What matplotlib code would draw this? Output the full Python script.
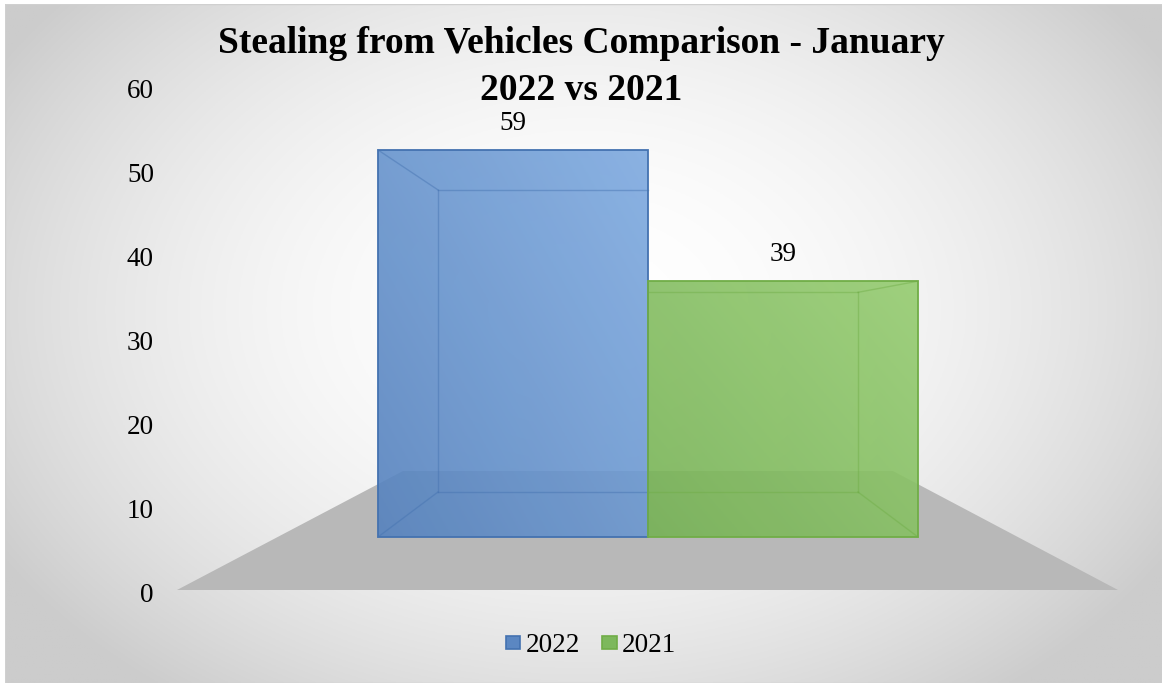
import numpy as np
import matplotlib
matplotlib.use("Agg")
import matplotlib.pyplot as plt
from matplotlib.patches import Polygon, Patch, Rectangle

# ---------------- data ----------------
series_names = ["2022", "2021"]
series_values = [59, 39]
y_ticks = [0, 10, 20, 30, 40, 50, 60]
title_lines = ["Stealing from Vehicles Comparison - January", "2022 vs 2021"]

front_colors = [("#5582be", "#7eaae0"), ("#76b255", "#95cc70")]
edge_colors = ["#4472b0", "#70ad47"]
legend_face = ["#5b87c2", "#7db85c"]

W, H, DPI = 1162, 683, 100
plt.rcParams["font.family"] = ["Liberation Serif", "DejaVu Serif"]

fig = plt.figure(figsize=(W / DPI, H / DPI), dpi=DPI)
fig.patch.set_facecolor("white")

# background (radial gradient) over chart area
bg = fig.add_axes([5 / W, 0, 1 - 5 / W, 1 - 4 / H])
bg.set_axis_off()
yy, xx = np.mgrid[0:1:300j, 0:1:500j]
cx, cy = 0.5, 0.55
r = np.sqrt(((xx - cx) / 0.62) ** 2 + ((yy - cy) / 0.75) ** 2)
g = np.clip(1.0 - 0.22 * r ** 2.0, 0.80, 1.0)
bg.imshow(np.dstack([g, g, g]), extent=[0, 1, 0, 1], aspect="auto", origin="lower")
bg.set_xlim(0, 1); bg.set_ylim(0, 1)
bg.add_patch(Rectangle((0, 0), 1, 1, fill=False, ec="#d0d0d0", lw=1.0,
                       transform=bg.transAxes))

# main axes: x in pixel-like units, y in value units (tick axis)
ax_left, ax_right = 165, 1130
y_bot_px, y_top_px = 593, 88
ax = fig.add_axes([ax_left / W, 1 - y_bot_px / H,
                   (ax_right - ax_left) / W, (y_bot_px - y_top_px) / H])
ax.set_xlim(ax_left, ax_right)
ax.set_ylim(y_ticks[0], y_ticks[-1])
ax.patch.set_alpha(0)
for s in ax.spines.values():
    s.set_visible(False)
ax.set_xticks([])
ax.set_yticks(y_ticks)
ax.tick_params(axis="y", length=0, pad=8, labelsize=19.5)

px_per_unit = (y_bot_px - y_top_px) / (y_ticks[-1] - y_ticks[0])


def px2val(py):
    return (y_bot_px - py) / px_per_unit


# 3D projection: planes (front z=0, back z=1)
planes = {
    0: dict(x0=378, xw=270, base=537, scale=6.56),
    1: dict(x0=438, xw=210, base=492, scale=5.12),
}


def proj(i, v, z):
    p = planes[z]
    return (p["x0"] + i * p["xw"], px2val(p["base"] - p["scale"] * v))


# floor
floor = Polygon([(177, px2val(590)), (1118, px2val(590)),
                 (893, px2val(471)), (403, px2val(471))],
                closed=True, fc="#b8b8b8", ec="none", zorder=1)
ax.add_patch(floor)

n = len(series_values)
for k, v in enumerate(series_values):
    fc0, fc1 = front_colors[k]
    ec = edge_colors[k]
    fbl = proj(k, 0, 0); fbr = proj(k + 1, 0, 0)
    ftl = proj(k, v, 0); ftr = proj(k + 1, v, 0)
    bbl = proj(k, 0, 1); bbr = proj(k + 1, 0, 1)
    btl = proj(k, v, 1); btr = proj(k + 1, v, 1)

    # gradient front face
    c0 = np.array(matplotlib.colors.to_rgb(fc0))
    c1 = np.array(matplotlib.colors.to_rgb(fc1))
    gy, gx = np.mgrid[0:1:100j, 0:1:100j]
    t = np.clip(0.55 * gx + 0.45 * gy, 0, 1)[..., None]
    img = c0 * (1 - t) + c1 * t
    face = Polygon([fbl, fbr, ftr, ftl], closed=True, fc="none", ec="none")
    ax.add_patch(face)
    im = ax.imshow(img, extent=[fbl[0], fbr[0], fbl[1], ftl[1]], origin="lower",
                   aspect="auto", alpha=0.9, zorder=2)
    im.set_clip_path(face)

    if k == 0:
        inner_x = [btl, bbl]
        diag = [(ftl, btl), (fbl, bbl)]
    else:
        inner_x = [btr, bbr]
        diag = [(ftr, btr), (fbr, bbr)]
    horiz = [(btl, btr), (bbl, bbr)]
    lw_in = 1.0
    for a, b in [tuple(inner_x)] + diag + horiz:
        ax.plot([a[0], b[0]], [a[1], b[1]], color=ec, lw=lw_in, alpha=0.45, zorder=3)
    # front outline
    ax.add_patch(Polygon([fbl, fbr, ftr, ftl], closed=True, fc="none", ec=ec,
                         lw=1.3, zorder=4))
    # data label
    ax.text((ftl[0] + ftr[0]) / 2, ftl[1] + px2val(537 - 14) - px2val(537),
            str(v), ha="center", va="bottom", fontsize=19.5, zorder=5)

# title (two lines)
fig.text(581 / W, 1 - 53 / H, title_lines[0], ha="center", va="baseline",
         fontsize=27, fontweight="bold")
fig.text(581 / W, 1 - 100 / H, title_lines[1], ha="center", va="baseline",
         fontsize=27, fontweight="bold")

# legend
handles = [Patch(fc=legend_face[k], ec=edge_colors[k], lw=1.2, label=series_names[k])
           for k in range(n)]
fig.legend(handles=handles, loc="center", bbox_to_anchor=(591 / W, 1 - 646 / H),
           ncol=n, frameon=False, fontsize=19.5, handlelength=0.55, handleheight=0.38,
           handletextpad=0.2, columnspacing=0.8, borderaxespad=0)

fig.savefig("out.png", dpi=DPI)
